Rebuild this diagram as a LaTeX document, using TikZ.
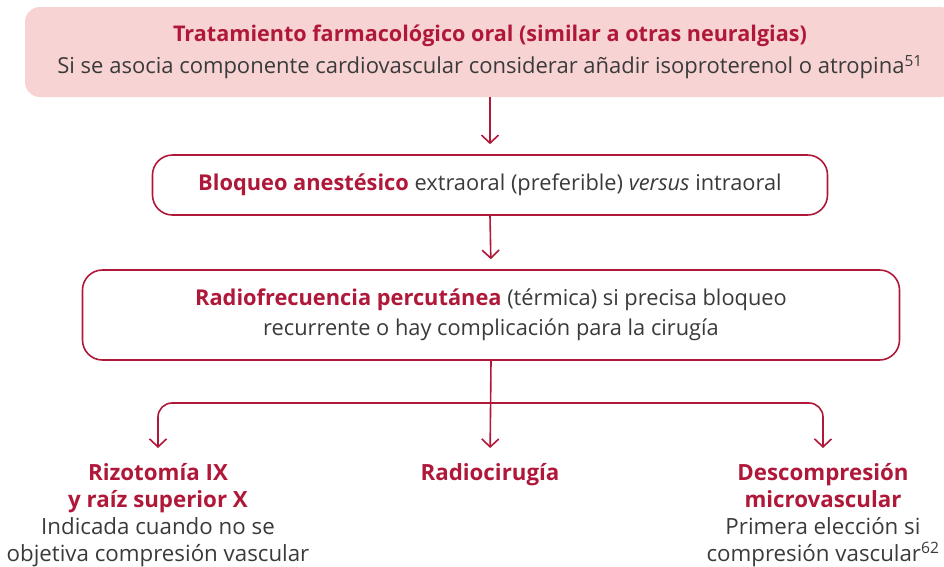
\documentclass[tikz,border=0pt]{standalone}
\usepackage{fontspec}
\setmainfont{Open Sans}
\usetikzlibrary{arrows.meta,positioning}
\definecolor{flow-red}{HTML}{B0183A}
\definecolor{flow-pink}{HTML}{F8D3D3}
\definecolor{flow-text}{HTML}{3A3A3A}
\tikzset{
    head-box/.style = {fill=flow-pink, rounded corners=15pt, text=flow-text, align=center, inner sep=0pt, font=\fontsize{22}{32}\selectfont},
    step-box/.style = {draw=flow-red, line width=1.6pt, fill=white, rounded corners=20pt, text=flow-text, align=center, inner sep=0pt, font=\fontsize{21.8}{30}\selectfont},
    option-label/.style = {text=flow-text, align=center, inner sep=0pt, font=\fontsize{22.3}{27}\selectfont},
    flow-arrow/.style = {draw=flow-red, line width=1.6pt, -{Straight Barb[length=8pt,width=17pt]}, shorten >=10pt},
}
\newcommand{\hl}[1]{\textcolor{flow-red}{\bfseries #1}}

\begin{document}
\begin{tikzpicture}[x=1pt, y=-1pt]
\useasboundingbox (0,0) rectangle (944,566);
\node [head-box, minimum width=930pt, minimum height=90pt] (pharma) at (490,52)
    {\hl{\fontsize{21.6}{32}\selectfont Tratamiento farmacológico oral (similar a otras neuralgias)}\\
     Si se asocia componente cardiovascular considerar añadir isoproterenol o atropina\textsuperscript{51}};
\node [step-box, minimum width=675pt, minimum height=60pt] (block) at (490,185)
    {\hl{Bloqueo anestésico} extraoral (preferible) \textit{versus} intraoral};
\node [step-box, minimum width=817pt, minimum height=90pt] (radiofreq) at (491,315)
    {\hl{Radiofrecuencia percutánea} (térmica) si precisa bloqueo\\
     recurrente o hay complicación para la cirugía};
\node [option-label, anchor=north] (rhizotomy) at (158,463)
    {\hl{Rizotomía IX}\\ \hl{y raíz superior X}\\ Indicada cuando no se\\ objetiva compresión vascular};
\node [option-label, anchor=north] (radiosurgery) at (490,463) {\hl{Radiocirugía}};
\node [option-label, anchor=north] (decompression) at (823,463)
    {\hl{Descompresión}\\ \hl{microvascular}\\ Primera elección si\\ compresión vascular\textsuperscript{62}};
\coordinate (split) at (490,403);

\draw [flow-arrow] (pharma.south) -- (block.north);
\draw [flow-arrow] (block.south) -- (radiofreq.north);
\draw [flow-arrow, shorten >=15pt] (radiofreq.south) -- (radiosurgery.north);
\draw [flow-arrow, {Straight Barb[length=8pt,width=17pt]}-{Straight Barb[length=8pt,width=17pt]}, shorten <=15pt, shorten >=15pt, rounded corners=14pt]
    (rhizotomy.north) |- (split) -| (decompression.north);
\end{tikzpicture}
\end{document}
